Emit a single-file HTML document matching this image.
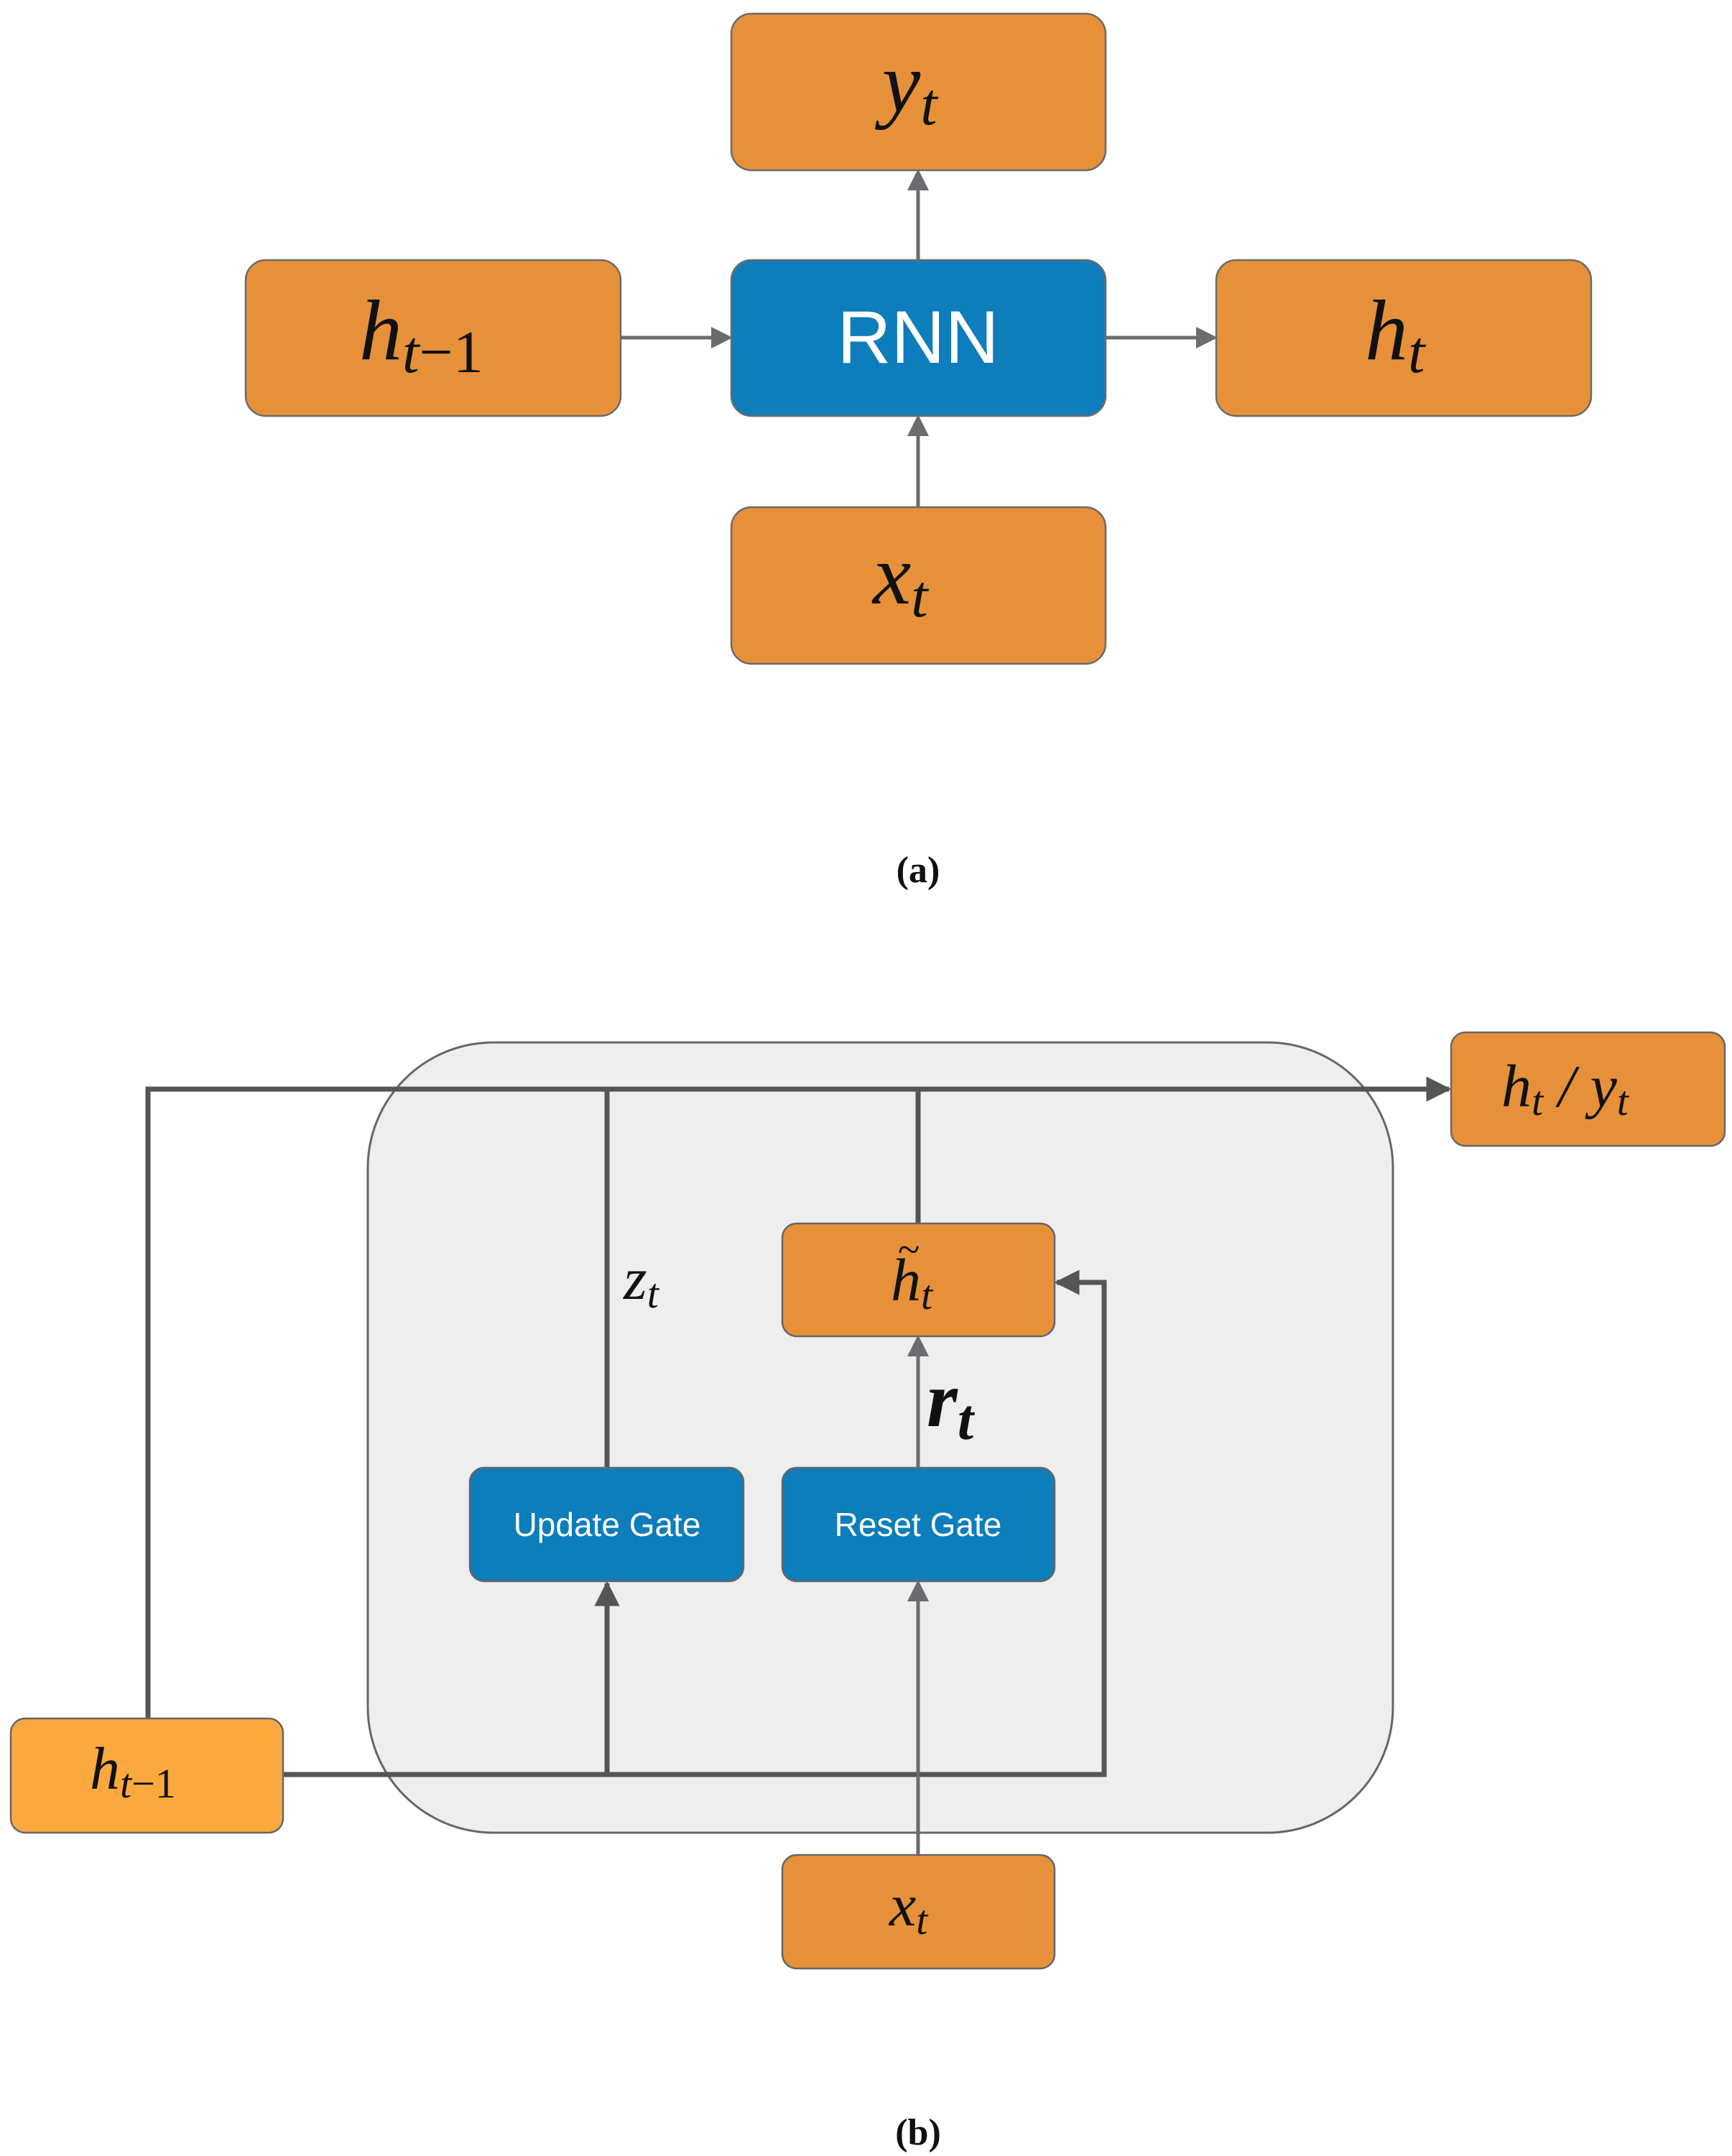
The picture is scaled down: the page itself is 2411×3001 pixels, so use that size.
<!DOCTYPE html>
<html><head><meta charset="utf-8"><style>
html,body{margin:0;padding:0;background:#fff}
svg{display:block}
.m{font-family:"Liberation Serif",serif;font-style:italic;fill:#111}
.s{font-family:"Liberation Sans",sans-serif;fill:#fff}
</style></head><body>
<svg width="2411" height="3001" viewBox="0 0 2411 3001" xmlns="http://www.w3.org/2000/svg">
<defs>
<marker id="a1" markerWidth="6" markerHeight="6" refX="5" refY="3" orient="auto" markerUnits="strokeWidth"><path d="M0,0 L6,3 L0,6 z" fill="#6b6b70"/></marker>
<marker id="a2" markerWidth="5" markerHeight="5" refX="4.5" refY="2.5" orient="auto" markerUnits="strokeWidth"><path d="M0,0 L5,2.5 L0,5 z" fill="#555"/></marker>
</defs>
<g stroke="#6b6b70" stroke-width="5" fill="none">
<line x1="1278" y1="362" x2="1278" y2="240" marker-end="url(#a1)"/>
<line x1="1278" y1="706" x2="1278" y2="582" marker-end="url(#a1)"/>
<line x1="864" y1="470" x2="1015" y2="470" marker-end="url(#a1)"/>
<line x1="1539" y1="470" x2="1690" y2="470" marker-end="url(#a1)"/>
</g>
<g stroke="#6b6b6b" stroke-width="2.5">
<rect x="1018" y="19" width="521" height="218" rx="28" fill="#e6913a"/>
<rect x="342" y="362" width="522" height="217" rx="28" fill="#e6913a"/>
<rect x="1018" y="362" width="521" height="217" rx="28" fill="#0d7dbb"/>
<rect x="1693" y="362" width="522" height="217" rx="28" fill="#e6913a"/>
<rect x="1018" y="706" width="521" height="218" rx="28" fill="#e6913a"/>
</g>
<text x="1278" y="505" class="s" font-size="104" text-anchor="middle">RNN</text>
<text x="1228" y="155" class="m" font-size="120">y<tspan font-size="84" dy="18">t</tspan></text>
<text x="500" y="500" class="m" font-size="120">h<tspan font-size="84" dy="18">t</tspan><tspan font-size="84" style="font-style:normal">−1</tspan></text>
<text x="1900" y="500" class="m" font-size="120">h<tspan font-size="84" dy="18">t</tspan></text>
<text x="1215" y="840" class="m" font-size="120">x<tspan font-size="84" dy="18">t</tspan></text>
<text x="1278" y="1228" font-family="Liberation Serif,serif" font-weight="bold" font-size="52" text-anchor="middle" fill="#111">(a)</text>
<rect x="512" y="1451" width="1427" height="1100" rx="175" fill="#eeeeee" stroke="#666" stroke-width="3"/>
<g stroke="#555" stroke-width="7" fill="none">
<polyline points="206,2392 206,1516 2017,1516" marker-end="url(#a2)"/>
<line x1="845" y1="2043" x2="845" y2="1516"/>
<line x1="1278" y1="1703" x2="1278" y2="1516"/>
<polyline points="394,2470 1537,2470 1537,1785 1471,1785" marker-end="url(#a2)"/>
<line x1="845" y1="2470" x2="845" y2="2204" marker-end="url(#a2)"/>
</g>
<g stroke="#6b6b70" stroke-width="5" fill="none">
<line x1="1278" y1="2582" x2="1278" y2="2204" marker-end="url(#a1)"/>
<line x1="1278" y1="2043" x2="1278" y2="1863" marker-end="url(#a1)"/>
</g>
<g stroke="#666" stroke-width="2.5">
<rect x="2020" y="1437" width="381" height="158" rx="20" fill="#e6913a"/>
<rect x="15" y="2392" width="379" height="159" rx="20" fill="#fba93f"/>
<rect x="654" y="2043" width="381" height="158" rx="20" fill="#0d7dbb"/>
<rect x="1089" y="2043" width="379" height="158" rx="20" fill="#0d7dbb"/>
<rect x="1089" y="1703" width="379" height="157" rx="20" fill="#e6913a"/>
<rect x="1089" y="2582" width="379" height="158" rx="20" fill="#e6913a"/>
</g>
<text x="845" y="2138" class="s" font-size="46" text-anchor="middle">Update Gate</text>
<text x="1278" y="2138" class="s" font-size="46" text-anchor="middle">Reset Gate</text>
<text x="2090" y="1540" class="m" font-size="84">h<tspan font-size="58" dy="12">t</tspan><tspan dy="-12"> / y</tspan><tspan font-size="58" dy="12">t</tspan></text>
<text x="125" y="2490" class="m" font-size="84">h<tspan font-size="58" dy="12">t</tspan><tspan font-size="58" style="font-style:normal">−1</tspan></text>
<text x="1240" y="1810" class="m" font-size="84">h<tspan font-size="58" dy="12">t</tspan></text>
<text x="1250" y="1758" font-family="Liberation Serif,serif" font-size="56" fill="#111">~</text>
<text x="1238" y="2680" class="m" font-size="84">x<tspan font-size="58" dy="12">t</tspan></text>
<text x="868" y="1808" class="m" font-size="84">z<tspan font-size="58" dy="12">t</tspan></text>
<text x="1290" y="1985" class="m" font-size="110" font-weight="bold">r<tspan font-size="80" dy="18">t</tspan></text>
<text x="1278" y="2985" font-family="Liberation Serif,serif" font-weight="bold" font-size="52" text-anchor="middle" fill="#111">(b)</text>
</svg>
</body></html>
